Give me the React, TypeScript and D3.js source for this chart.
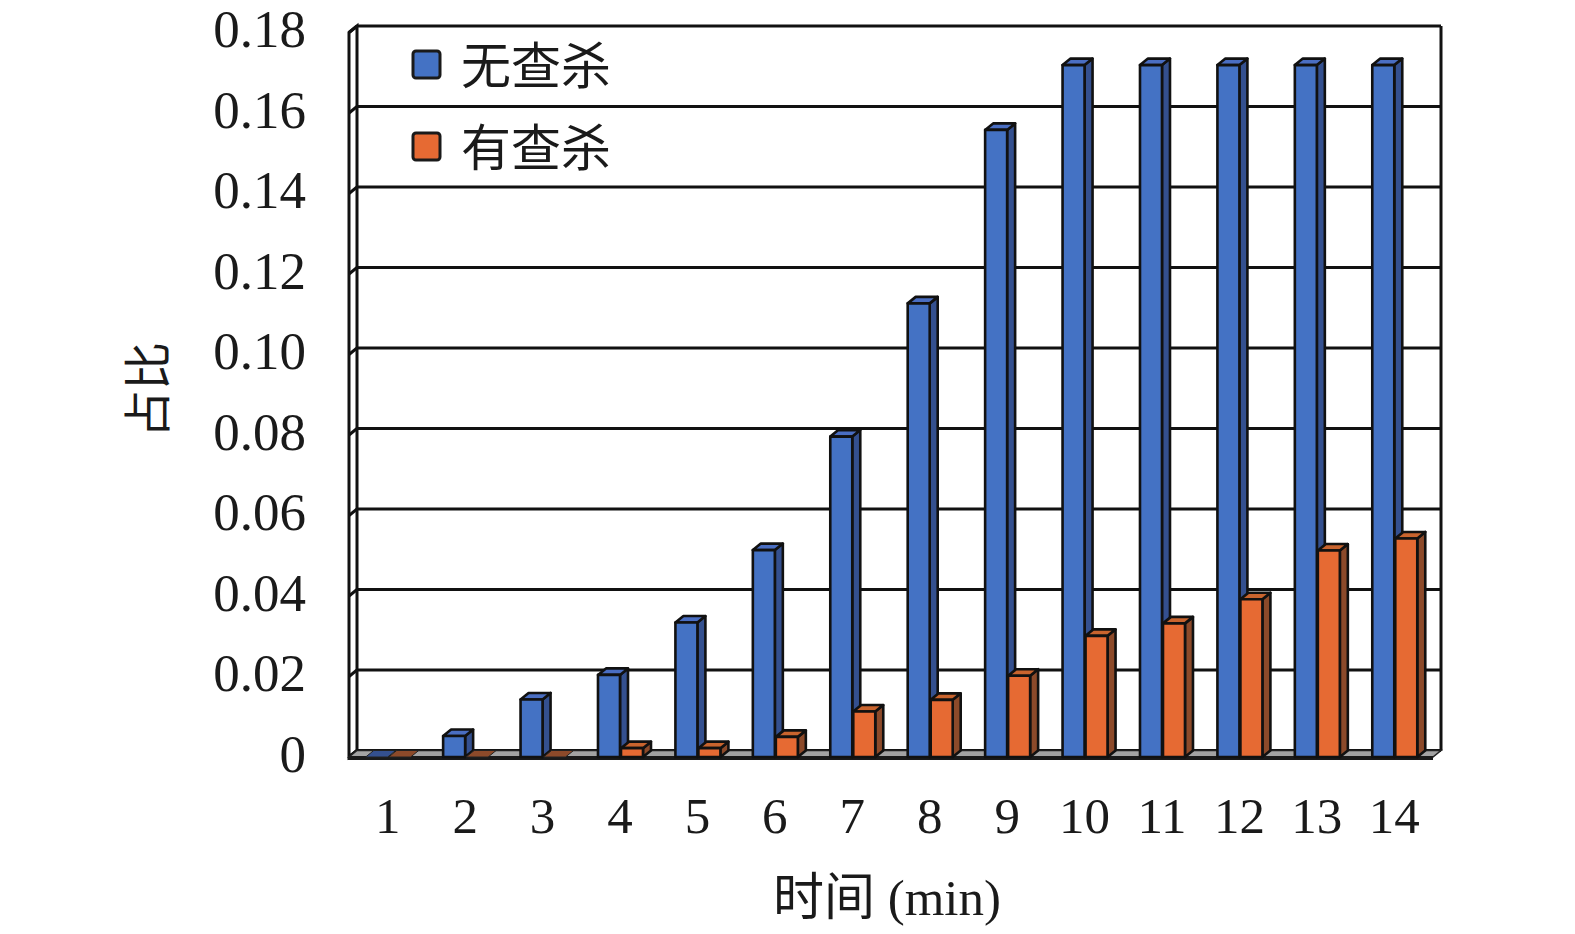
import * as d3 from "d3";

// 时间 (min)
const categories = ["1", "2", "3", "4", "5", "6", "7", "8", "9", "10", "11", "12", "13", "14"];
// 无查杀
const noKill = [0, 0.0052, 0.0143, 0.0204, 0.0334, 0.0514, 0.0796, 0.1127, 0.1558, 0.1719, 0.1719, 0.1719, 0.1719, 0.1719];
// 有查杀
const withKill = [0, 0, 0, 0.0022, 0.0022, 0.005, 0.0113, 0.0142, 0.0202, 0.0301, 0.0332, 0.0392, 0.0513, 0.0543];
const yTicks = [0, 0.02, 0.04, 0.06, 0.08, 0.1, 0.12, 0.14, 0.16, 0.18];
const seriesNames = ["无查杀", "有查杀"];

const W = 1575;
const H = 934;
const dx = 8; // depth offset
const dy = 6.5;
const frontLeft = 349;
const frontRight = 1433;
const frontBase = 757;
const barW = 22;

const colors = [
  { front: "#4472C4", side: "#34508f", top: "#4a6ec2" },
  { front: "#E66A33", side: "#8c4a2a", top: "#c9642e" },
];

const latin = "'Liberation Serif', 'Times New Roman', serif";
const cjk = "'Liberation Serif', 'Noto Sans CJK SC', serif";

export default function App() {
  const yFront = d3.scaleLinear().domain([0, 0.18]).range([frontBase, frontBase - 0.18 * 4025]);
  const yBack = (v: number) => yFront(v) - dy;
  const xBar = d3.scaleBand().domain(categories).range([frontLeft, frontRight]);
  const xLabel = d3.scaleBand().domain(categories).range([349, 1433]);
  const offsets = [16.7, 39.7];

  const backTop = yBack(0.18);
  const backBase = yBack(0);

  const bar = (cat: string, v: number, s: number) => {
    const x0 = (xBar(cat) as number) + offsets[s];
    const yt = yFront(v);
    const c = colors[s];
    const topPts = [[x0, yt], [x0 + barW, yt], [x0 + barW + dx, yt - dy], [x0 + dx, yt - dy]];
    const sidePts = [[x0 + barW, yt], [x0 + barW + dx, yt - dy], [x0 + barW + dx, frontBase - dy], [x0 + barW, frontBase]];
    const toStr = (p: number[][]) => p.map((q) => q.join(",")).join(" ");
    if (v <= 0) {
      return (
        <polygon key={cat + s} points={toStr(topPts)} fill={c.side} stroke="#222" strokeWidth={1} />
      );
    }
    return (
      <g key={cat + s} stroke="#111" strokeWidth={2.6} strokeLinejoin="round">
        <polygon points={toStr(sidePts)} fill={c.side} />
        <polygon points={toStr(topPts)} fill={c.top} />
        <rect x={x0} y={yt} width={barW} height={frontBase - yt} fill={c.front} />
      </g>
    );
  };

  return (
    <svg width={W} height={H} style={{ position: "absolute", left: 0, top: 0, background: "#fff" }}>
      {/* back wall gridlines */}
      {yTicks.map((t) => (
        <g key={t}>
          <line x1={frontLeft + dx} x2={frontRight + dx} y1={yBack(t)} y2={yBack(t)} stroke="#111" strokeWidth={3} />
          <line x1={frontLeft} x2={frontLeft + dx} y1={yFront(t)} y2={yBack(t)} stroke="#111" strokeWidth={3} />
        </g>
      ))}
      <line x1={frontRight + dx} x2={frontRight + dx} y1={backTop} y2={backBase} stroke="#111" strokeWidth={3} />
      {/* left wall */}
      <polygon
        points={`${frontLeft},${yFront(0.18)} ${frontLeft + dx},${backTop} ${frontLeft + dx},${backBase} ${frontLeft},${frontBase}`}
        fill="none"
        stroke="#111"
        strokeWidth={3}
      />
      {/* floor */}
      <polygon
        points={`${frontLeft},${frontBase} ${frontRight},${frontBase} ${frontRight + dx},${backBase} ${frontLeft + dx},${backBase}`}
        fill="#a3a3a3"
        stroke="#222"
        strokeWidth={1.5}
      />
      <line x1={frontLeft - 1} x2={frontRight} y1={frontBase + 1} y2={frontBase + 1} stroke="#1a1a1a" strokeWidth={4} />

      {/* bars */}
      {categories.map((c, i) => (
        <g key={c}>
          {bar(c, noKill[i], 0)}
          {bar(c, withKill[i], 1)}
        </g>
      ))}

      {/* y tick labels */}
      {yTicks.map((t) => (
        <text key={t} x={306} y={yBack(t) + 3} textAnchor="end" dominantBaseline="central" fontFamily={latin} fontSize={53} fill="#1a1a1a">
          {t === 0 ? "0" : t.toFixed(2)}
        </text>
      ))}
      {/* x tick labels */}
      {categories.map((c) => (
        <text key={c} x={(xLabel(c) as number) + xLabel.bandwidth() / 2} y={816} textAnchor="middle" dominantBaseline="central" fontFamily={latin} fontSize={51} fill="#1a1a1a">
          {c}
        </text>
      ))}

      {/* axis titles */}
      <text x={887} y={898} textAnchor="middle" dominantBaseline="central" fontFamily={cjk} fontSize={51} fill="#1a1a1a">
        时间 (min)
      </text>
      <text transform="translate(148,390) rotate(-90)" textAnchor="middle" dominantBaseline="central" fontFamily={cjk} fontSize={48} fill="#1a1a1a">
        占比
      </text>

      {/* legend */}
      {seriesNames.map((n, i) => (
        <g key={n} transform={`translate(0, ${i * 82})`}>
          <rect x={413} y={51} width={27} height={27} rx={3} fill={colors[i].front} stroke="#1a1a1a" strokeWidth={3} />
          <text x={461} y={67} dominantBaseline="central" fontFamily={cjk} fontSize={50} fill="#1a1a1a">
            {n}
          </text>
        </g>
      ))}
    </svg>
  );
}
